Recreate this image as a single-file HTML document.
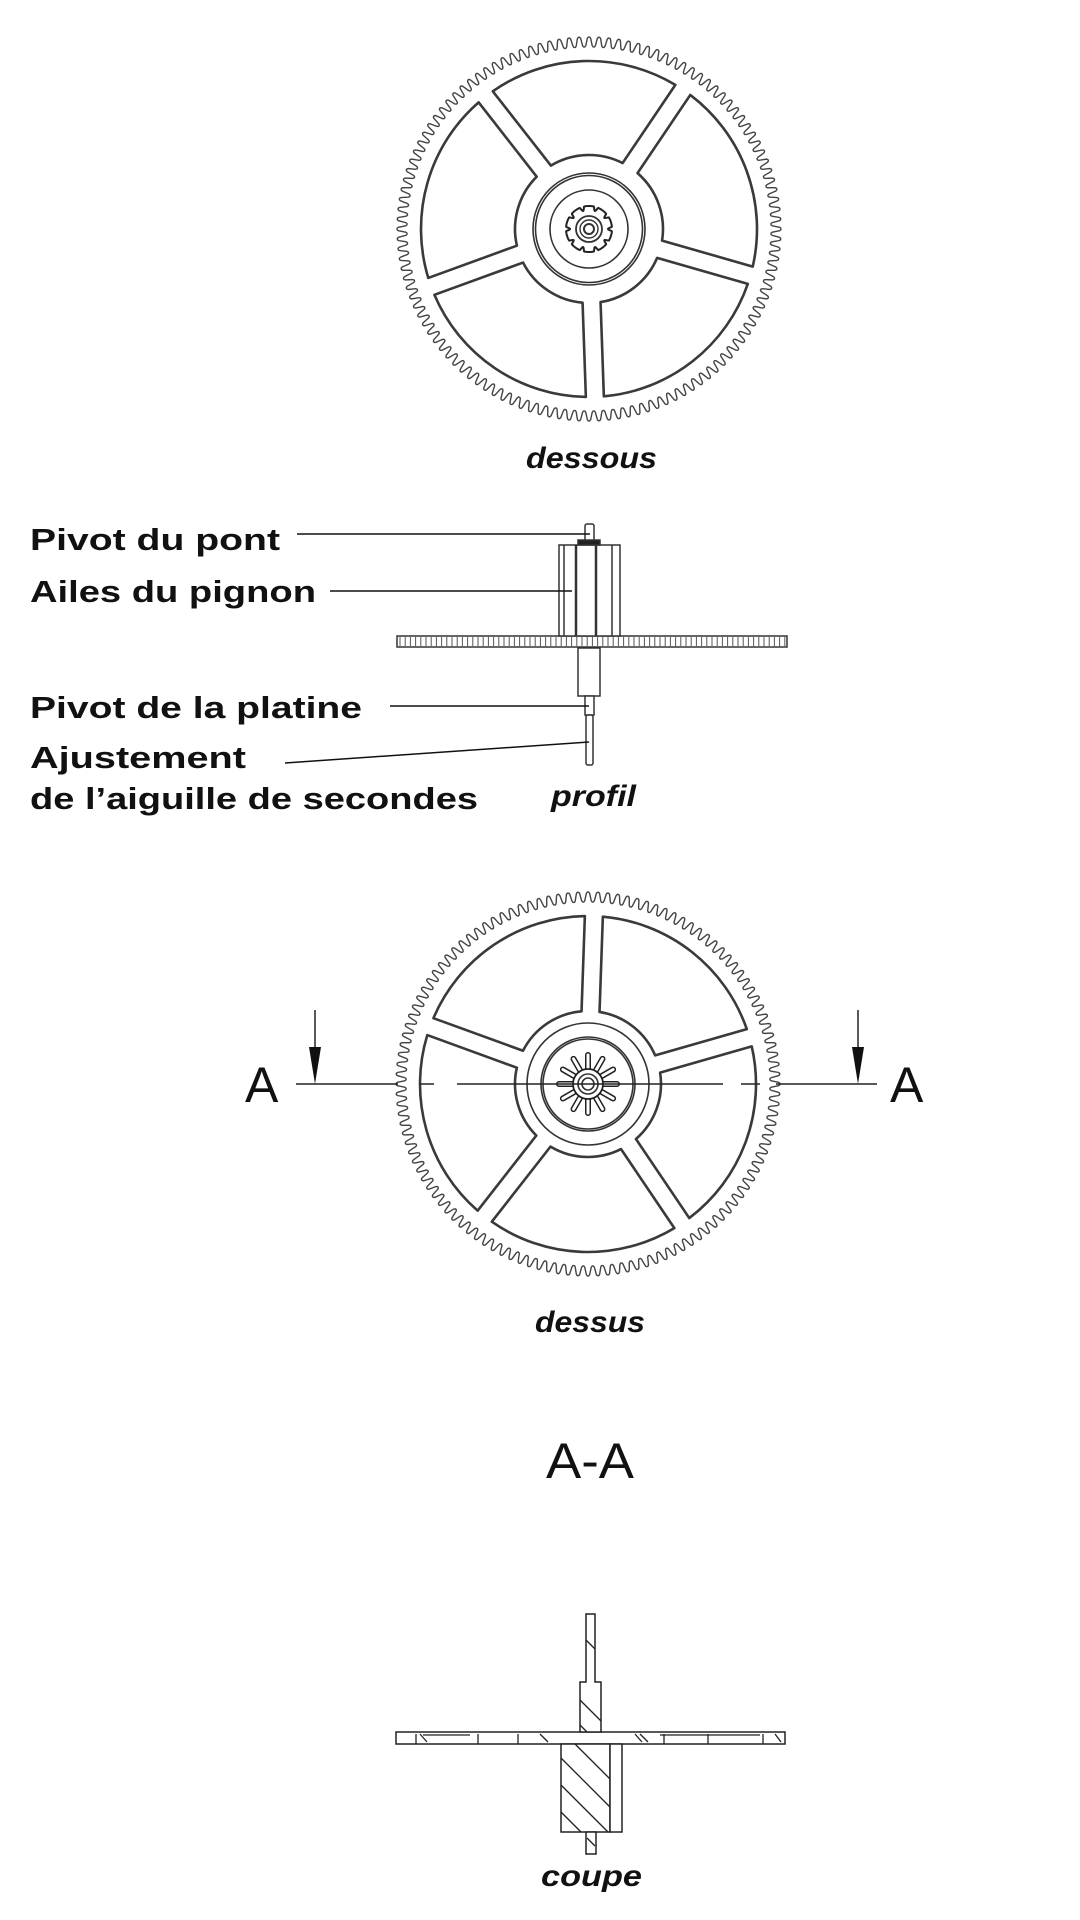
<!DOCTYPE html>
<html><head><meta charset="utf-8">
<style>
html,body{margin:0;padding:0;background:#fff;}
svg{display:block;}
.lb{font-family:"Liberation Sans",sans-serif;font-weight:bold;font-size:31px;fill:#111;}
.it{font-family:"Liberation Sans",sans-serif;font-weight:bold;font-style:italic;font-size:30px;fill:#111;}
.aa{font-family:"Liberation Sans",sans-serif;font-size:50px;fill:#111;}
</style></head>
<body>
<svg id="s" width="1080" height="1920" viewBox="0 0 1080 1920" xmlns="http://www.w3.org/2000/svg">
<rect width="1080" height="1920" fill="#fff"/>
<g id="g1"></g>
<g id="g2"></g>
<g id="prof" stroke="#333" fill="none" stroke-width="1.5">
  <rect x="397" y="636" width="390" height="11" fill="#fff"/>
  <g id="pteeth"></g>
  <rect x="559" y="545" width="61" height="91" fill="#fff"/>
  <line x1="564" y1="545" x2="564" y2="636"/>
  <line x1="612" y1="545" x2="612" y2="636"/>
  <line x1="576" y1="545" x2="576" y2="636" stroke-width="2.5"/>
  <line x1="596" y1="545" x2="596" y2="636" stroke-width="2.5"/>
  <rect x="585" y="524" width="9" height="18" rx="2" fill="#fff"/>
  <rect x="578" y="540" width="22" height="5" fill="#222"/>
  <rect x="578" y="648" width="22" height="48" fill="#fff"/>
  <rect x="585" y="696" width="9" height="19" fill="#fff"/>
  <rect x="586" y="715" width="7" height="50" rx="2" fill="#fff"/>
  <line x1="297" y1="534" x2="590" y2="534" stroke="#111"/>
  <line x1="330" y1="591" x2="572" y2="591" stroke="#111"/>
  <line x1="390" y1="706" x2="589" y2="706" stroke="#111"/>
  <line x1="285" y1="763" x2="589" y2="742" stroke="#111"/>
</g>
<text class="lb" x="30" y="550" textLength="250" lengthAdjust="spacingAndGlyphs">Pivot du pont</text>
<text class="lb" x="30" y="602" textLength="286" lengthAdjust="spacingAndGlyphs">Ailes du pignon</text>
<text class="lb" x="30" y="718" textLength="332" lengthAdjust="spacingAndGlyphs">Pivot de la platine</text>
<text class="lb" x="30" y="768" textLength="216" lengthAdjust="spacingAndGlyphs">Ajustement</text>
<text class="lb" x="30" y="809" textLength="448" lengthAdjust="spacingAndGlyphs">de l’aiguille de secondes</text>
<text class="it" x="551" y="806" textLength="85" lengthAdjust="spacingAndGlyphs">profil</text>
<text class="it" x="526" y="468" textLength="131" lengthAdjust="spacingAndGlyphs">dessous</text>
<text class="it" x="535" y="1332" textLength="110" lengthAdjust="spacingAndGlyphs">dessus</text>
<text class="aa" x="245" y="1102">A</text>
<text class="aa" x="890" y="1102">A</text>
<text class="aa" x="546" y="1478" textLength="88" lengthAdjust="spacingAndGlyphs">A-A</text>
<text class="it" x="541" y="1886" textLength="101" lengthAdjust="spacingAndGlyphs">coupe</text>
<g stroke="#222" stroke-width="1.5" fill="none">
  <line x1="296" y1="1084" x2="398" y2="1084"/>
  <line x1="776" y1="1084" x2="877" y2="1084"/>
  <line x1="420" y1="1084" x2="434" y2="1084"/>
  <line x1="457" y1="1084" x2="723" y2="1084"/>
  <line x1="741" y1="1084" x2="760" y2="1084"/>
  <line x1="315" y1="1010" x2="315" y2="1050"/>
  <line x1="858" y1="1010" x2="858" y2="1050"/>
</g>
<polygon points="309,1047 321,1047 315,1084" fill="#111"/>
<polygon points="852,1047 864,1047 858,1084" fill="#111"/>
<g id="coupe" stroke="#222" stroke-width="1.5" fill="#fff">
  <rect x="396" y="1732" width="389" height="12"/>
  <path d="M586,1614 L595,1614 L595,1682 L601,1682 L601,1732 L580,1732 L580,1682 L586,1682 Z"/>
  <rect x="561" y="1744" width="49" height="88"/>
  <rect x="610" y="1744" width="12" height="88"/>
  <rect x="586" y="1832" width="10" height="22"/>
  <g fill="none" stroke-width="1.3">
    <line x1="561" y1="1758" x2="610" y2="1807"/>
    <line x1="561" y1="1785" x2="608" y2="1832"/>
    <line x1="561" y1="1812" x2="581" y2="1832"/>
    <line x1="575" y1="1744" x2="610" y2="1779"/>
    <line x1="580" y1="1700" x2="601" y2="1721"/>
    <line x1="580" y1="1725" x2="587" y2="1732"/>
    <line x1="586" y1="1640" x2="595" y2="1649"/>
    <line x1="587" y1="1838" x2="595" y2="1846"/>
    <line x1="420" y1="1734" x2="427" y2="1742"/>
    <line x1="540" y1="1734" x2="548" y2="1742"/>
    <line x1="635" y1="1734" x2="642" y2="1742"/>
    <line x1="640" y1="1734" x2="648" y2="1742"/>
    <line x1="775" y1="1734" x2="781" y2="1742"/>
    <line x1="423" y1="1735" x2="470" y2="1735"/>
    <line x1="660" y1="1735" x2="760" y2="1735"/>
    <line x1="478" y1="1734" x2="478" y2="1744"/>
    <line x1="416" y1="1734" x2="416" y2="1744"/>
    <line x1="708" y1="1734" x2="708" y2="1744"/>
    <line x1="763" y1="1734" x2="763" y2="1744"/>
    <line x1="518" y1="1734" x2="518" y2="1744"/>
    <line x1="664" y1="1734" x2="664" y2="1744"/>
  </g>
</g>
</svg>
<script>
(function(){
var NS="http://www.w3.org/2000/svg";
function el(p,t,a){var e=document.createElementNS(NS,t);for(var k in a)e.setAttribute(k,a[k]);p.appendChild(e);return e;}
function pt(cx,cy,r,a){return [cx+r*Math.cos(a),cy+r*Math.sin(a)];}
function gear(g,cx,cy,sp,hubR,variant){
  var d="",N=120;
  for(var i=0;i<=1440;i++){var t=i/1440*2*Math.PI;var c=Math.cos(N*t);var s=Math.tanh(1.6*c)/Math.tanh(1.6);var r=187+5*s;var p=pt(cx,cy,r,t);d+=(i?"L":"M")+p[0].toFixed(2)+","+p[1].toFixed(2);}
  el(g,"path",{d:d+"Z",fill:"none",stroke:"#444","stroke-width":"1.4"});
  var R=168,w=9,ri=hubR;
  for(var k=0;k<5;k++){
    var a1=(sp+72*k)*Math.PI/180,a2=a1+72*Math.PI/180;
    var dO=Math.asin(w/R),dI=Math.asin(w/ri);
    var p1=pt(cx,cy,R,a1+dO),p2=pt(cx,cy,R,a2-dO),p3=pt(cx,cy,ri,a2-dI),p4=pt(cx,cy,ri,a1+dI);
    var pd="M"+p1+" A"+R+","+R+" 0 0 1 "+p2+" L"+p3+" A"+ri+","+ri+" 0 0 0 "+p4+" Z";
    el(g,"path",{d:pd,fill:"none",stroke:"#3a3a3a","stroke-width":"2.6","stroke-linejoin":"round"});
  }
  var C=function(r,sw){el(g,"circle",{cx:cx,cy:cy,r:r,fill:"none",stroke:"#333","stroke-width":sw||1.6});};
  if(variant==1){
    C(56);C(53.5);C(39);
    // pinion with notches
    var pd2="";
    for(var i=0;i<=360;i++){var t=i/360*2*Math.PI;var c=Math.cos(10*t);var r=23-(c>0.6?4*(c-0.6)/0.4:0);var p=pt(cx,cy,r,t);pd2+=(i?"L":"M")+p[0].toFixed(2)+","+p[1].toFixed(2);}
    el(g,"path",{d:pd2+"Z",fill:"none",stroke:"#222","stroke-width":"2"});
    C(13,1.8);C(9,1.4);C(5,2);
  } else {
    C(61);C(47);C(45);
    for(var j=0;j<12;j++){var t=j*30*Math.PI/180;var a=pt(cx,cy,14,t),b=pt(cx,cy,29,t);
      el(g,"line",{x1:a[0],y1:a[1],x2:b[0],y2:b[1],stroke:"#222","stroke-width":"6","stroke-linecap":"round"});}
    for(var j=0;j<12;j++){var t=j*30*Math.PI/180;var a=pt(cx,cy,14,t),b=pt(cx,cy,29,t);
      el(g,"line",{x1:a[0],y1:a[1],x2:b[0],y2:b[1],stroke:"#fff","stroke-width":"3","stroke-linecap":"round"});}
    el(g,"circle",{cx:cx,cy:cy,r:15,fill:"#fff",stroke:"#222","stroke-width":"1.8"});
    C(10,1.6);C(6,1.6);
  }
}
gear(document.getElementById("g1"),589,229,16,74,1);
gear(document.getElementById("g2"),588,1084,-160,73,2);
var pt2=document.getElementById("pteeth");
for(var x=400;x<785;x+=5.2){el(pt2,"line",{x1:x.toFixed(1),y1:637,x2:x.toFixed(1),y2:646,"stroke-width":"1","stroke":"#555"});}
})();
</script>
</body></html>
